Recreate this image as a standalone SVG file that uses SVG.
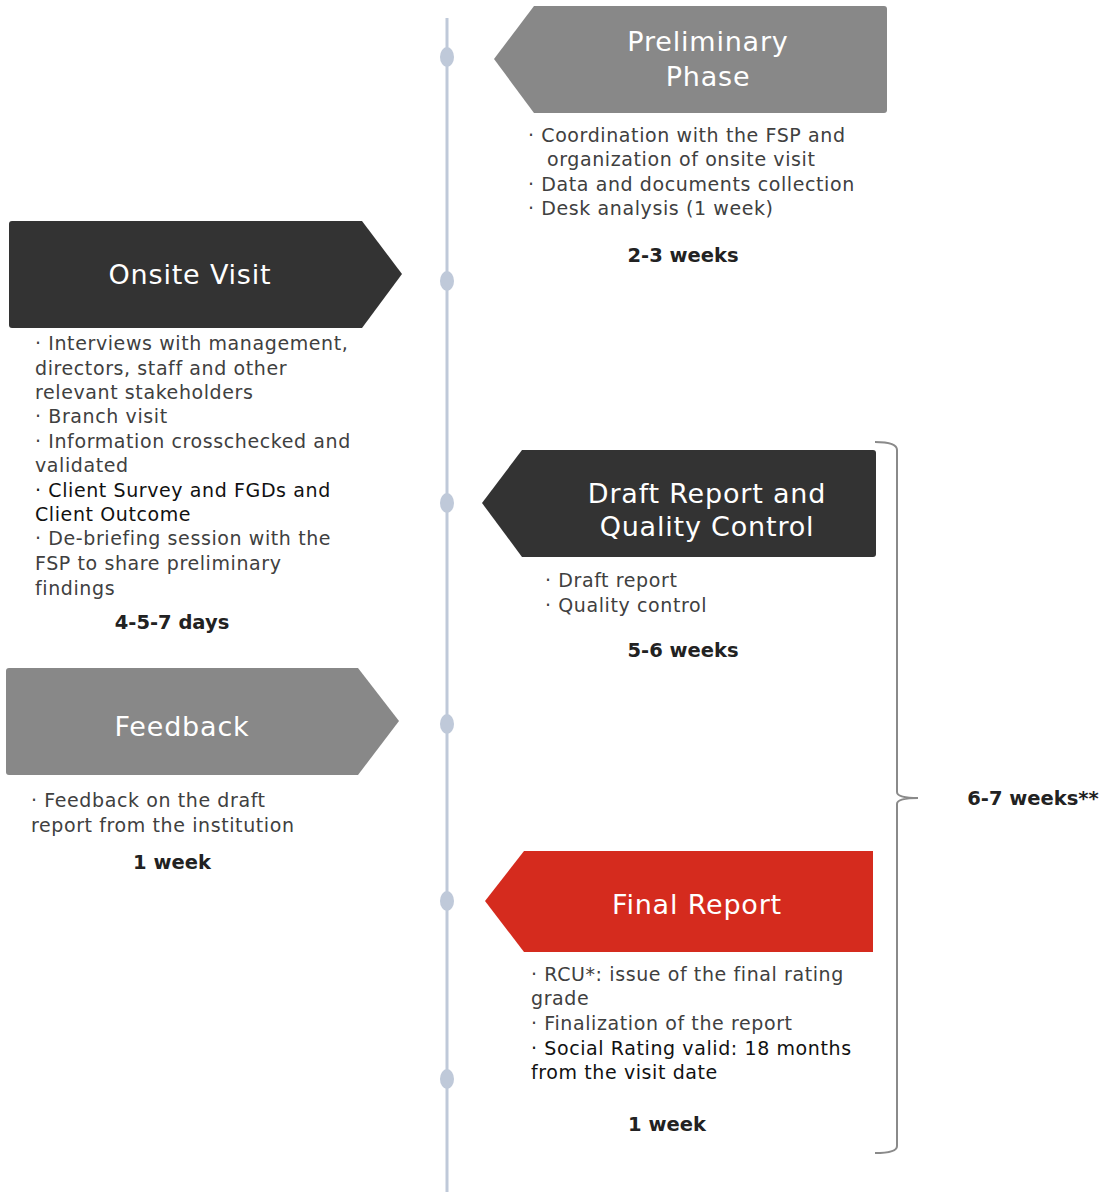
<svg xmlns="http://www.w3.org/2000/svg" width="1102" height="1192" viewBox="0 0 1102 1192">
<style>
.hd{font-family:"DejaVu Sans","Liberation Sans",sans-serif;font-size:27px;letter-spacing:0.8px;fill:#ffffff;text-anchor:middle}
.bl{font-family:"DejaVu Sans","Liberation Sans",sans-serif;font-size:19px;letter-spacing:0.6px;fill:#404040}
.bk{fill:#111111}
.du{font-family:"DejaVu Sans","Liberation Sans",sans-serif;font-size:19.5px;font-weight:bold;fill:#222222;text-anchor:middle}
.dot{fill:#BFC9D9}
</style>
<rect width="1102" height="1192" fill="#ffffff"/>
<g id="connectors">
<line x1="447" y1="18" x2="447" y2="1192" stroke="#BFC9D9" stroke-width="3"/>
<path d="M875,442 Q897,442 897,450 L897,792 Q897,798 918,798 Q897,798 897,804 L897,1146 Q897,1153 875,1153" fill="none" stroke="#8a8a8a" stroke-width="2"/>
</g>
<g id="timeline-dots">
<ellipse class="dot" cx="447" cy="57" rx="7" ry="10"/>
<ellipse class="dot" cx="447" cy="281" rx="7" ry="10"/>
<ellipse class="dot" cx="447" cy="503" rx="7" ry="10"/>
<ellipse class="dot" cx="447" cy="724" rx="7" ry="10"/>
<ellipse class="dot" cx="447" cy="901" rx="7" ry="10"/>
<ellipse class="dot" cx="447" cy="1079" rx="7" ry="10"/>
</g>
<g id="preliminary">
<path d="M534,6 L884,6 Q887,6 887,9 L887,110 Q887,113 884,113 L534,113 L494,59 Z" fill="#888888"/>
<text class="hd" x="708" y="51">Preliminary</text>
<text class="hd" x="708" y="86">Phase</text>
<text class="bl" x="528" y="142">· Coordination with the FSP and</text>
<text class="bl" x="547" y="166">organization of onsite visit</text>
<text class="bl" x="528" y="191">· Data and documents collection</text>
<text class="bl" x="528" y="215">· Desk analysis (1 week)</text>
<text class="du" x="683" y="262">2-3 weeks</text>
</g>
<g id="onsite">
<path d="M12,221 L362,221 L402,274 L362,328 L12,328 Q9,328 9,325 L9,224 Q9,221 12,221 Z" fill="#333333"/>
<text class="hd" x="190" y="284">Onsite Visit</text>
<text class="bl" x="35" y="350">· Interviews with management,</text>
<text class="bl" x="35" y="375">directors, staff and other</text>
<text class="bl" x="35" y="399">relevant stakeholders</text>
<text class="bl" x="35" y="423">· Branch visit</text>
<text class="bl" x="35" y="448">· Information crosschecked and</text>
<text class="bl" x="35" y="472">validated</text>
<text class="bl bk" x="35" y="497">· Client Survey and FGDs and</text>
<text class="bl bk" x="35" y="521">Client Outcome</text>
<text class="bl" x="35" y="545">· De-briefing session with the</text>
<text class="bl" x="35" y="570">FSP to share preliminary</text>
<text class="bl" x="35" y="595">findings</text>
<text class="du" x="172" y="629">4-5-7 days</text>
</g>
<g id="draft">
<path d="M522,450 L873,450 Q876,450 876,453 L876,554 Q876,557 873,557 L522,557 L482,503 Z" fill="#333333"/>
<text class="hd" x="707" y="503">Draft Report and</text>
<text class="hd" x="707" y="536">Quality Control</text>
<text class="bl" x="545" y="587">· Draft report</text>
<text class="bl" x="545" y="612">· Quality control</text>
<text class="du" x="683" y="657">5-6 weeks</text>
</g>
<g id="feedback">
<path d="M9,668 L358,668 L399,721 L358,775 L9,775 Q6,775 6,772 L6,671 Q6,668 9,668 Z" fill="#888888"/>
<text class="hd" x="182" y="736">Feedback</text>
<text class="bl" x="31" y="807">· Feedback on the draft</text>
<text class="bl" x="31" y="832">report from the institution</text>
<text class="du" x="172" y="869">1 week</text>
</g>
<g id="final">
<path d="M524,851 L873,851 L873,952 L524,952 L485,901 Z" fill="#D52B1E"/>
<text class="hd" x="697" y="914">Final Report</text>
<text class="bl" x="531" y="981">· RCU*: issue of the final rating</text>
<text class="bl" x="531" y="1005">grade</text>
<text class="bl" x="531" y="1030">· Finalization of the report</text>
<text class="bl bk" x="531" y="1055">· Social Rating valid: 18 months</text>
<text class="bl bk" x="531" y="1079">from the visit date</text>
<text class="du" x="667" y="1131">1 week</text>
</g>
<g id="total">
<text class="du" x="1033" y="805">6-7 weeks**</text>
</g>
</svg>
